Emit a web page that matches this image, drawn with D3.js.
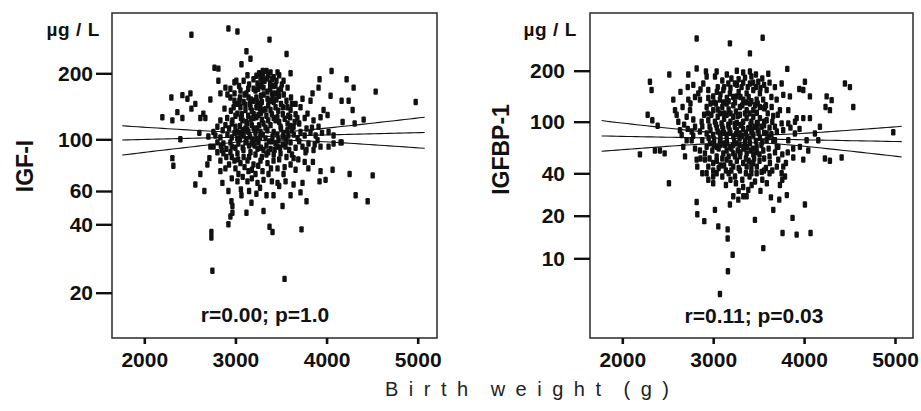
<!DOCTYPE html>
<html><head><meta charset="utf-8">
<script src="https://cdn.jsdelivr.net/npm/d3@7"></script>
<style>
html,body{margin:0;padding:0;background:#fff;}
svg{display:block;font-family:"Liberation Sans",Arial,Helvetica,sans-serif;}
</style></head>
<body>
<svg id="chart" width="921" height="411"></svg>
<script>
// ---------- data ----------
const xTickValues = [2000, 3000, 4000, 5000];
const igf1TickValues = [20, 40, 60, 100, 200];
const igfbp1TickValues = [10, 20, 40, 100, 200];
const yUnitLabel = "µg / L";
const xAxisTitle = "Birth weight (g)";
const panelTitles = ["IGF-I", "IGFBP-1"];
const panelStats = ["r=0.00; p=1.0", "r=0.11; p=0.03"];

// [birth weight (g), concentration (µg/L)]
const igf1Points = [
[2517,300],[2923,320],[3022,310],[3374,285],[3561,245],[3121,252],[3066,220],[3165,233],[2770,212],[2813,210],[2813,185],[3132,196],[3605,200],[4055,205],[4220,188],[4297,172],[4539,165],[4978,148],[3923,188],[3912,172],
[2297,155],[2418,159],[2506,162],[2473,153],[2560,145],[2517,138],[2363,133],[2308,122],[2418,125],[2198,126],[2725,152],[2670,125],[2396,100],[2308,83],[2319,77],[2604,107],[2703,103],[2725,93],[2714,83],[2692,78],
[2615,71],[2560,64],[2659,60],[2835,81],[2857,65],[2923,60],[2956,53],[2967,50],[2967,46],[2945,44],[2923,40],[3066,57],[3121,46],[3176,52],[3308,47],[3341,57],[3418,57],[3517,50],[3605,57],[3714,59],
[3780,53],[3736,65],[3638,64],[3550,66],[3462,65],[3374,39],[3407,37],[3725,38],[2736,37],[2736,35],[2747,25],[3539,23],[3923,66],[3989,67],[4066,74],[4253,71],[4506,70],[4319,57],[4451,53],[3934,73],
[4022,93],[4165,97],[4077,104],[4176,120],[4308,118],[4407,123],[4286,136],[4242,150],[4165,150],[4044,158],[3967,136],[4011,129],[3846,162],[3824,150],[3736,153],[3714,140],[3660,145],[3605,136],[3824,107],[3802,96],
[3769,88],[3857,90],[3736,93],[3638,83],[3605,78],[3660,74],[3528,71],[3462,75],[3418,81],[3495,87],[3550,93],[3528,107],[3495,114],[3572,118],[3572,172],[3528,185],[3462,202],[3385,202],[3341,205],[3275,191],
[3242,180],[3220,167],[3198,150],[3308,172],[3418,175],[3473,167],[3407,155],[3352,153],[3275,145],[3308,136],[3385,136],[3440,140],[3165,140],[3110,136],[3055,140],[3022,131],[2989,150],[2945,155],[2912,160],[2835,162],
[2890,172],[2945,170],[3055,167],[3044,150],[3143,155],[2835,122],[2802,114],[2758,108],[2890,116],[2967,122],[3000,114],[3077,122],[3132,118],[3198,125],[3253,129],[3308,118],[3385,116],[3440,122],[3275,108],[3220,107],
[3143,108],[3055,107],[2989,107],[2912,105],[2835,102],[2802,97],[2868,96],[2945,97],[3033,96],[3110,97],[3187,99],[3253,97],[3330,101],[3407,103],[3473,99],[3550,101],[3605,97],[3682,101],[3714,108],[3638,114],
[2802,88],[2868,87],[2945,88],[3022,87],[3088,90],[3165,88],[3242,91],[3308,90],[3385,91],[3462,93],[2989,81],[3055,79],[3132,81],[3198,78],[3275,81],[3352,79],[3143,73],[3220,71],[3297,73],[3363,71],
[3033,71],[3022,66],[3132,66],[3242,65],[3308,67],[3901,99],[3934,93],[3912,114],[3857,122],[3934,126],[3791,131],[2989,182],[3198,188],[2835,73],[2890,75],[2615,125],[2648,131],[4022,108],[4077,96],[4154,97],
[3260,200],[3300,195],[3350,190],[3420,192],[3480,196],[3290,183],[3380,180],[3440,176],[3510,178],[3250,170],[3350,165],[3400,162],[3480,158],[3530,160],[3280,158],[3230,155],[3120,162],[3090,148],[3160,145],[3230,140],
[3290,148],[3360,143],[3420,148],[3500,145],[3560,150],[3610,155],[3660,130],[3580,128],[3520,130],[3460,126],[3400,130],[3340,128],[3280,132],[3200,130],[3140,128],[3070,130],[3000,128],[2950,135],[2880,138],[2860,110],
[2930,112],[3050,115],[3110,112],[3180,116],[3240,112],[3350,110],[3420,108],[3500,112],[3570,110],[3640,105],[3700,98],[3760,104],[3660,92],[3590,90],[3520,95],[3440,96],[3370,98],[3300,105],[3230,100],[3160,103],
[3090,104],[3020,101],[2960,93],[2900,91],[2840,94],[2780,104],[2760,93],[3000,92],[3080,92],[3150,94],[3210,94],[3280,92],[3340,86],[3420,86],[3480,82],[3560,84],[3620,86],[3690,82],[3760,80],[3800,75],
[3540,76],[3390,75],[3250,77],[3180,74],[3100,76],[3000,75],[2930,78],[2900,84],[2960,68],[3080,69],[3180,68],[3270,62],[3400,66],[3480,63],[3060,61],[3150,60],[3230,58],[2850,90],[3700,118],[3760,125],
[3780,112],[3680,125],[3840,113],[3880,104],[3950,107],[3870,95],[3850,80],[3780,90],
[3010,185],[3040,175],[3090,185],[3150,178],[3200,170],[3270,175],[3320,185],[3400,188],[3450,185],[3500,170],[3310,160],[3380,150],[3450,152],[3520,140],[3270,138],[3180,135],[3110,144],[3020,145],[2980,140],[3060,125],
[3120,120],[3170,124],[3230,126],[3290,123],[3360,122],[3420,125],[3480,120],[3540,124],[3600,126],[3330,113],[3260,116],[3200,112],[3130,110],[3080,110],[3020,108],[2960,102],[3050,100],[3120,100],[3190,96],[3270,102],
[3340,94],[3400,98],[3460,105],[3520,103],[3580,104],[3620,110],[3560,98],[3490,92],[3430,90],[3360,88],[3290,84],[3220,86],[3150,84],[3090,84],[3030,82],[2960,84],[3240,148],[3170,152],[3330,137],[3470,135],
[3050,155],[2990,162],[2960,118],[2910,125],[3570,140],[3620,145],[3650,120],[3600,115],[3380,170],[3300,205],[3230,195],[3360,197],[3440,162],[3140,170],[3100,160]
];

const igfbp1Points = [
[2818,310],[3184,290],[3544,313],[3404,253],[2818,206],[2726,190],[3038,198],[2920,198],[2517,190],[3404,198],[3606,192],[3815,205],[4009,172],[3991,154],[4064,141],[3947,156],[4449,168],[4504,160],[4541,122],[4248,141],
[4303,134],[4284,117],[4236,122],[2304,172],[2322,154],[2279,110],[2330,102],[2389,93],[2194,56],[2359,60],[2414,60],[2466,57],[2513,34],[2561,135],[2580,117],[2634,86],[2653,79],[2671,64],[2690,54],[2616,100],
[2726,135],[2745,117],[2781,103],[2708,72],[2763,72],[2818,51],[2825,45],[2854,60],[2909,57],[2928,40],[2946,36],[3000,34],[3038,40],[2818,25],[2825,20.5],[2902,18.3],[3019,22],[3056,16.8],[3159,16],[3159,13.8],
[3214,10.6],[3162,8.1],[3074,5.6],[3368,27.5],[3459,18.7],[3551,11.8],[3635,27],[3661,22],[3727,26],[3763,15.1],[3873,19.3],[3918,14.7],[4009,24],[4071,15.1],[3184,24],[3221,27.5],[3276,26],[3331,27.5],[3386,30.5],[3423,33],
[3478,40],[3533,41],[3441,48],[3368,45],[3294,42],[3221,45],[3148,51],[3111,57],[3038,54],[3000,48],[2946,45],[3624,48],[3716,51],[3753,40],[3790,38],[3734,33],[3771,45],[3881,53],[3991,51],[4046,60],
[3954,64],[4028,72],[4119,81],[4156,72],[4174,91.5],[4229,52],[4284,50],[4413,53],[4981,83],[4064,105],[3991,105],[3918,105],[3826,97],[3753,97],[3679,91.5],[3588,81],[3661,72],[3716,64],[3826,72],[3899,81],
[3698,135],[3643,122],[3570,122],[3734,117],[3826,117],[3771,144],[3844,141],[3679,160],[3753,168],[3588,154],[3514,147],[3496,172],[3404,168],[3441,154],[3368,147],[3312,160],[3239,168],[3166,168],[3111,154],[3184,147],
[3257,141],[3331,135],[3404,128],[3478,135],[3514,122],[3441,117],[3368,117],[3294,122],[3221,125],[3148,128],[3074,135],[3000,141],[2946,154],[2891,168],[2854,135],[2928,122],[3000,117],[3074,112],[3148,110],[3221,107],
[3294,110],[3368,105],[3441,107],[3514,105],[3588,102],[3533,91.5],[3459,91.5],[3386,89],[3312,95],[3239,91.5],[3166,95],[3092,97],[3019,100],[2946,102],[2873,100],[2800,91.5],[2854,84],[2928,81],[3000,79],[3074,81],
[3148,79],[3221,77],[3294,81],[3368,77],[3441,79],[3514,75],[3588,72],[2964,68],[3038,64],[3111,68],[3184,64],[3257,68],[3331,64],[3404,68],[3478,64],[3551,60],[3368,57],[3441,56],[3294,54],[3221,57],
[3148,60],[3074,72],[2928,64],[2909,51],[2763,84],[2781,165],[2836,147],[2928,185],[2946,138],[2598,110],[2663,122],[2708,107],
[3050,160],[3100,175],[3200,180],[3280,178],[3350,182],[3420,185],[3470,160],[3520,158],[3560,165],[3620,170],[3280,150],[3220,140],[3150,138],[3080,145],[3030,128],[3100,122],[3170,118],[3250,115],[3320,125],[3390,140],
[3460,125],[3550,135],[3600,112],[3660,108],[3480,113],[3400,112],[3330,100],[3260,98],[3190,100],[3120,104],[3050,107],[2980,110],[2900,110],[2880,92],[2960,92],[3040,90],[3110,88],[3180,86],[3260,86],[3330,88],
[3410,95],[3480,98],[3560,94],[3620,90],[3700,84],[3770,86],[3640,80],[3560,82],[3490,86],[3420,84],[3350,70],[3290,74],[3230,70],[3150,72],[3080,76],[3010,73],[2950,75],[2880,72],[2990,60],[3060,62],
[3130,66],[3200,62],[3270,60],[3340,62],[3410,60],[3480,58],[3530,66],[3610,62],[3680,58],[3760,56],[3700,45],[3650,42],[3580,44],[3510,50],[3450,52],[3390,50],[3330,48],[3260,50],[3190,48],[3120,46],
[3060,44],[3000,42],[2960,52],[3100,38],[3170,40],[3240,38],[3320,36],[3400,38],[3460,35],[3540,36],[3590,34],[3420,44],[3330,32],[3280,30],[3140,33],[3000,38],[2880,40],[2860,52],[2800,62],[2780,78],
[2720,88],[2680,95],[2750,128],[2800,140],[2860,155],[2640,150],[2720,160],[3260,200],[3330,195],[3580,125],[3640,140],[3850,90],[3900,100],[3950,88],[3880,62],[3820,58],[3800,48],[3760,36],[3810,28],[3520,30],
[3040,150],[3120,160],[3190,158],[3260,165],[3330,170],[3380,160],[3440,170],[3300,140],[3360,130],[3420,132],[3490,128],[3560,120],[3240,130],[3170,132],[3110,130],[3050,118],[3120,112],[3190,112],[3270,108],[3350,112],
[3420,100],[3490,96],[3560,100],[3300,94],[3240,96],[3170,92],[3100,92],[3030,95],[2970,86],[3050,84],[3120,82],[3190,82],[3250,80],[3320,78],[3400,74],[3470,71],[3540,70],[3610,76],[3360,82],[3430,88],
[3500,82],[3290,66],[3220,66],[3150,68],[3080,66],[3010,66],[3370,64],[3440,62],[3510,56],[3560,52],[3620,54],[3360,52],[3300,58],[3240,54],[3170,54],[3100,52],[3040,50],[3420,48],[3480,45],[3560,42],
[3280,44],[3200,42],[3140,42],[3360,40],[3420,40],[3250,34],[3190,36],[3080,46],[3620,40],[3700,64],[3680,72],[3650,100],[3710,110],[3010,130],[2970,128],[2940,112],[3020,185],[3150,190],[3470,190],[3540,180]
];

// regression line (on log scale) and 95% CI: end points in data units, CI half-width in log10 units
const igf1Fit   = {x0: 1758, x1: 5077, y0: 99.3, y1: 107.4, xm: 3350, w0: 0.018, k: 3.9e-5};
const igfbp1Fit = {x0: 1773, x1: 5074, y0: 77.6, y1: 70.2, xm: 3420, w0: 0.030, k: 6.9e-5};

// ---------- drawing ----------
const svg = d3.select("#chart");
const font = '"Liberation Sans",Arial,Helvetica,sans-serif';

const panels = [
  {frame:{x0:112,x1:437,y0:13,y1:338}, xr:[144.3,417.7],
   yTicks: igf1TickValues, yr:[292.7,224.3,191,139.3,73.3],
   pts: igf1Points, fit: igf1Fit, title: panelTitles[0], stat: panelStats[0],
   tickPad:3, unitX:100, titleX:33, titleY:166, titleSize:23, statX:265, statY:322},
  {frame:{x0:590,x1:913,y0:13,y1:338}, xr:[622.3,895],
   yTicks: igfbp1TickValues, yr:[258.3,215.7,173.3,121.7,70.7],
   pts: igfbp1Points, fit: igfbp1Fit, title: panelTitles[1], stat: panelStats[1],
   tickPad:9, unitX:577, titleX:509, titleY:149.5, titleSize:23, statX:754, statY:323}
];

panels.forEach(p => {
  const f = p.frame;
  const x = d3.scaleLinear().domain([2000,5000]).range(p.xr);
  const y = d3.scaleLog().domain(p.yTicks).range(p.yr);
  const g = svg.append("g");

  // frame
  g.append("rect").attr("x",f.x0).attr("y",f.y0)
    .attr("width",f.x1-f.x0).attr("height",f.y1-f.y0)
    .attr("fill","none").attr("stroke","#2a2a2a").attr("stroke-width",1.5);

  // y axis
  const ya = g.append("g").attr("transform",`translate(${f.x0},0)`)
    .call(d3.axisLeft(y).tickValues(p.yTicks).tickFormat(d3.format("d"))
      .tickSize(16).tickPadding(p.tickPad));
  ya.select(".domain").remove();
  ya.selectAll("line").attr("stroke","#111").attr("stroke-width",2.4);
  ya.selectAll("text").attr("font-family",font).attr("font-weight","bold")
    .attr("font-size",21).attr("fill","#111");

  // x axis
  const xa = g.append("g").attr("transform",`translate(0,${f.y1})`)
    .call(d3.axisBottom(x).tickValues(xTickValues).tickFormat(d3.format("d"))
      .tickSize(6).tickPadding(8));
  xa.select(".domain").remove();
  xa.selectAll("line").attr("stroke","#111").attr("stroke-width",2.6);
  xa.selectAll("text").attr("font-family",font).attr("font-weight","bold")
    .attr("font-size",21).attr("fill","#111");

  // unit label
  g.append("text").attr("x",p.unitX).attr("y",36).attr("text-anchor","end")
    .attr("font-family",font).attr("font-weight","bold").attr("font-size",19)
    .attr("letter-spacing","0.6px").attr("fill","#111").text(yUnitLabel);

  // y title
  g.append("text").attr("transform",`translate(${p.titleX},${p.titleY}) rotate(-90)`)
    .attr("text-anchor","middle").attr("font-family",font).attr("font-weight","bold")
    .attr("font-size",p.titleSize).attr("fill","#111").text(p.title);

  // points
  g.append("g").selectAll("rect").data(p.pts).join("rect")
    .attr("x",d => x(d[0]) - 2.2).attr("y",d => y(d[1]) - 3.2)
    .attr("width",4.4).attr("height",6.4).attr("rx",1.2)
    .attr("fill","#111");

  // regression and confidence bands
  const fit = p.fit;
  const l0 = Math.log10(fit.y0), l1 = Math.log10(fit.y1);
  const xs = d3.range(0, 61).map(i => fit.x0 + (fit.x1 - fit.x0) * i / 60);
  const center = xv => l0 + (l1 - l0) * (xv - fit.x0) / (fit.x1 - fit.x0);
  const half = xv => Math.sqrt(fit.w0*fit.w0 + Math.pow(fit.k*(xv - fit.xm),2));
  const line = d3.line().x(d => x(d[0])).y(d => y(d[1]));
  [0, 1, -1].forEach(s => {
    g.append("path")
      .attr("d", line(xs.map(xv => [xv, Math.pow(10, center(xv) + s*half(xv))])))
      .attr("fill","none").attr("stroke","#111").attr("stroke-width",1.1);
  });

  // stats
  g.append("text").attr("x",p.statX).attr("y",p.statY).attr("text-anchor","middle")
    .attr("font-family",font).attr("font-weight","bold").attr("font-size",21)
    .attr("fill","#111").text(p.stat);
});

// shared x title
svg.append("text").attr("x",385).attr("y",396)
  .attr("font-family",font).attr("font-size",20).attr("fill","#222")
  .attr("letter-spacing","10.5px").attr("word-spacing","-4px")
  .text(xAxisTitle);
</script>
</body></html>
